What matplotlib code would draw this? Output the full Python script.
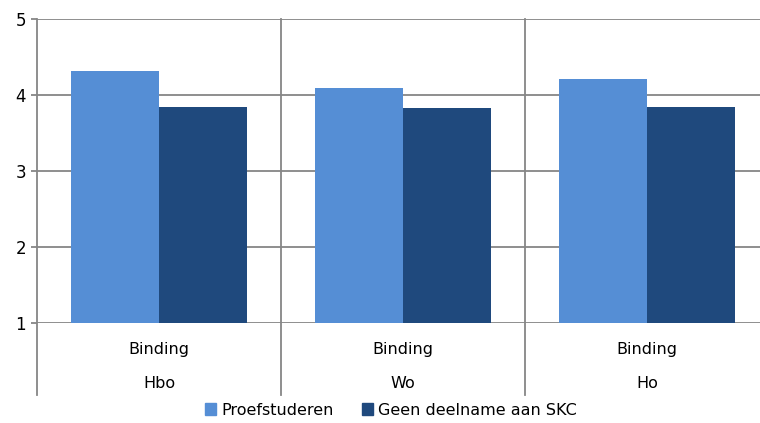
import numpy as np
import matplotlib.pyplot as plt
import matplotlib.transforms as mtransforms
from matplotlib.patches import Patch

groups = ['Hbo', 'Wo', 'Ho']
measure = ['Binding', 'Binding', 'Binding']
series_names = ['Proefstuderen', 'Geen deelname aan SKC']
proef = [4.32, 4.09, 4.21]
geen = [3.84, 3.83, 3.84]
colors = ['#558ED5', '#1F497D']
grid_col = '#868686'

plt.rcParams['font.family'] = ['DejaVu Sans']
fig = plt.figure(figsize=(7.6, 4.23), dpi=100)
ax = fig.add_axes([37 / 760, 1 - 323 / 423, 732 / 760, 304 / 423])

x = np.arange(len(groups)) + 0.5
w = 0.36
ax.bar(x - w / 2, proef, w, bottom=0, color=colors[0], zorder=3)
ax.bar(x + w / 2, geen, w, bottom=0, color=colors[1], zorder=3)

ax.set_xlim(0, 3)
ax.set_ylim(1, 5)
ax.set_yticks([1, 2, 3, 4, 5])
ax.set_xticks([])
ax.yaxis.grid(True, color=grid_col, linewidth=1.3, zorder=0)
for s in ['top', 'right', 'bottom']:
    ax.spines[s].set_visible(False)
ax.spines['left'].set_visible(False)
ax.tick_params(axis='y', length=4, color=grid_col, width=1.3, labelsize=12, pad=4)

# vertical separators that run down into the label area
trans = mtransforms.blended_transform_factory(ax.transData, ax.transAxes)
for xv in [0, 1, 2]:
    ax.plot([xv, xv], [-0.237, 1], color=grid_col, linewidth=1.3, transform=trans,
            clip_on=False, zorder=1)

for i in range(len(groups)):
    ax.text(x[i], -0.087, measure[i], transform=trans, ha='center', va='center', fontsize=11.5)
    ax.text(x[i], -0.199, groups[i], transform=trans, ha='center', va='center', fontsize=11.5)

handles = [Patch(color=c) for c in colors]
fig.legend(handles, series_names, loc='center', bbox_to_anchor=(391 / 760, 1 - 410 / 423),
           ncol=2, frameon=False, fontsize=11.5, handlelength=0.7, handleheight=0.7,
           handletextpad=0.3, columnspacing=1.8)

fig.savefig('out.png', dpi=100)
